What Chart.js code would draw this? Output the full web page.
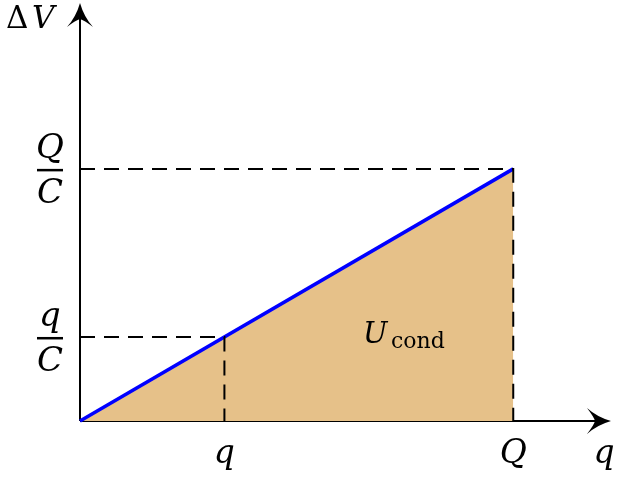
<!DOCTYPE html>
<html>
<head>
<meta charset="utf-8">
<script src="https://cdn.jsdelivr.net/npm/chart.js@4"></script>
<style>
  html, body { margin: 0; padding: 0; background: #fff; }
  canvas { display: block; }
</style>
</head>
<body>
<canvas id="energyChart" width="622" height="477"></canvas>
<script>
// charge values: origin, q, Q (with C = 1 so that ΔV = q/C)
const chargeValues = [0, 1, 3];
const voltageValues = [0, 1, 3];
const xTickLabels = ['', 'q', 'Q'];
const yTickLabels = [null, ['q', 'C'], ['Q', 'C']];
const xAxisMax = 3.67;
const yAxisMax = 4.95;

const serif = '"DejaVu Serif", "Liberation Serif", serif';

function drawArrowHead(ctx, x, y, dir) {
    // stealth-like curved arrow tip, dir = 'up' or 'right'
    ctx.save();
    ctx.translate(x, y);
    if (dir === 'right') ctx.rotate(Math.PI / 2);
    ctx.beginPath();
    ctx.moveTo(0, 0);
    ctx.quadraticCurveTo(-4, 14, -13, 24);
    ctx.quadraticCurveTo(-4, 17, 0, 16);
    ctx.quadraticCurveTo(4, 17, 13, 24);
    ctx.quadraticCurveTo(4, 14, 0, 0);
    ctx.closePath();
    ctx.fillStyle = '#000';
    ctx.fill();
    ctx.restore();
}

const axesPlugin = {
    id: 'axesPlugin',
    beforeDatasetsDraw(chart) {
        const { ctx, scales: { x, y } } = chart;
        const x0 = x.getPixelForValue(0);
        const y0 = y.getPixelForValue(0);
        ctx.save();
        ctx.strokeStyle = '#000';
        ctx.lineWidth = 2;
        ctx.beginPath();
        ctx.moveTo(x0, y0);
        ctx.lineTo(x0, y.getPixelForValue(yAxisMax) + 6);
        ctx.moveTo(x0, y0);
        ctx.lineTo(x.getPixelForValue(xAxisMax) - 6, y0);
        ctx.stroke();
        ctx.restore();
    },
    afterDraw(chart) {
        const { ctx, scales: { x, y } } = chart;
        const x0 = x.getPixelForValue(0);
        const y0 = y.getPixelForValue(0);
        drawArrowHead(ctx, x0, y.getPixelForValue(yAxisMax) - 2, 'up');
        drawArrowHead(ctx, x.getPixelForValue(xAxisMax) + 1, y0, 'right');

        ctx.save();
        ctx.fillStyle = '#000';
        ctx.textAlign = 'center';
        ctx.textBaseline = 'alphabetic';

        // x tick labels
        ctx.font = 'italic 33px ' + serif;
        chargeValues.forEach((v, i) => {
            if (!xTickLabels[i]) return;
            ctx.fillText(xTickLabels[i], x.getPixelForValue(v), y0 + 42);
        });
        // x axis title
        ctx.fillText('q', 604, y0 + 42);

        // y tick labels as fractions
        ctx.font = 'italic 34px ' + serif;
        voltageValues.forEach((v, i) => {
            const frac = yTickLabels[i];
            if (!frac) return;
            const py = y.getPixelForValue(v);
            ctx.fillText(frac[0], 50, py - 11);
            ctx.fillText(frac[1], 50, py + 34);
            ctx.fillRect(37, py, 26, 2.5);
        });

        // y axis title
        ctx.textAlign = 'left';
        ctx.font = '31px ' + serif;
        ctx.fillText('\u0394', 6, 28);
        ctx.font = 'italic 31px ' + serif;
        ctx.fillText('V', 32, 28);

        // area label
        ctx.font = 'italic 29px ' + serif;
        ctx.fillText('U', 363, 343);
        ctx.font = '22px ' + serif;
        ctx.fillText('cond', 391, 348);
        ctx.restore();
    }
};

new Chart(document.getElementById('energyChart'), {
    type: 'scatter',
    data: {
        datasets: [
            {
                label: 'ΔV',
                data: [
                    { x: chargeValues[0], y: voltageValues[0] },
                    { x: chargeValues[2], y: voltageValues[2] }
                ],
                showLine: true,
                fill: 'origin',
                backgroundColor: '#e6c189',
                borderColor: '#0000ff',
                borderWidth: 3.5,
                pointRadius: 0,
                clip: false,
                order: 1
            },
            {
                label: 'q guide',
                data: [
                    { x: chargeValues[0], y: voltageValues[1] },
                    { x: chargeValues[1], y: voltageValues[1] },
                    { x: chargeValues[1], y: voltageValues[0] }
                ],
                showLine: true,
                borderColor: '#000',
                borderWidth: 2,
                borderDash: [15, 9],
                pointRadius: 0,
                clip: false,
                order: 0
            },
            {
                label: 'Q guide',
                data: [
                    { x: chargeValues[0], y: voltageValues[2] },
                    { x: chargeValues[2], y: voltageValues[2] },
                    { x: chargeValues[2], y: voltageValues[0] }
                ],
                showLine: true,
                borderColor: '#000',
                borderWidth: 2,
                borderDash: [15, 9],
                pointRadius: 0,
                clip: false,
                order: 0
            }
        ]
    },
    options: {
        responsive: false,
        animation: false,
        layout: { padding: { left: 80, right: 12, top: 5, bottom: 56 } },
        scales: {
            x: { type: 'linear', min: 0, max: xAxisMax, display: false },
            y: { type: 'linear', min: 0, max: yAxisMax, display: false }
        },
        plugins: {
            legend: { display: false },
            tooltip: { enabled: false }
        }
    },
    plugins: [axesPlugin]
});
</script>
</body>
</html>
